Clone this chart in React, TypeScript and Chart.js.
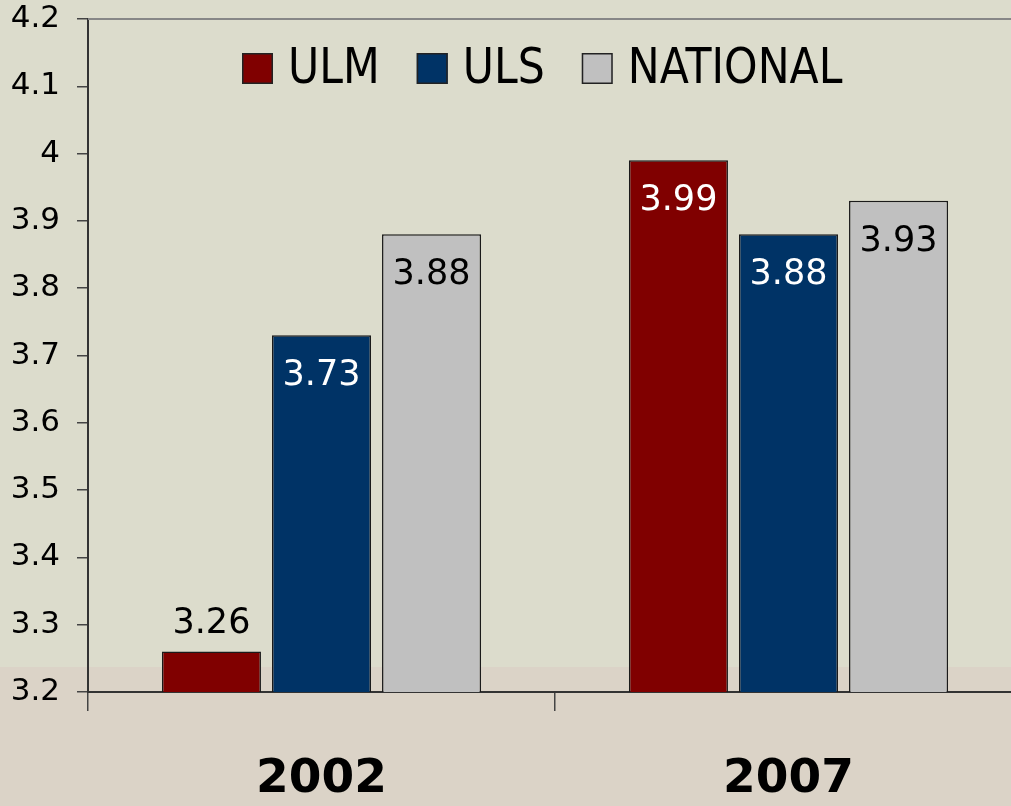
import React, { useEffect, useRef } from "react";
import { Chart, registerables } from "chart.js";

Chart.register(...registerables);

const categories = ["2002", "2007"];
const seriesNames = ["ULM", "ULS", "NATIONAL"];
const ulmValues = [3.26, 3.99];
const ulsValues = [3.73, 3.88];
const nationalValues = [3.88, 3.93];
const yMin = 3.2;
const yMax = 4.2;
const yStep = 0.1;

const CANVAS_W = 1040;
const CANVAS_H = 806;

const bgPlugin = {
  id: "bgSplit",
  beforeDraw(chart: any) {
    const { ctx, width, height } = chart;
    ctx.save();
    ctx.fillStyle = "#dcdccc";
    ctx.fillRect(0, 0, width, 667);
    ctx.fillStyle = "#dbd3c7";
    ctx.fillRect(0, 667, width, height - 667);
    ctx.restore();
  },
  beforeDatasetsDraw(chart: any) {
    const { ctx, chartArea } = chart;
    ctx.save();
    ctx.strokeStyle = "#878787";
    ctx.lineWidth = 2;
    ctx.beginPath();
    ctx.moveTo(chartArea.left, chartArea.top);
    ctx.lineTo(chartArea.right, chartArea.top);
    ctx.stroke();
    ctx.restore();
  },
};

const legendPlugin = {
  id: "customLegend",
  afterDraw(chart: any) {
    const ctx = chart.ctx;
    ctx.save();
    ctx.font = "49px 'DejaVu Sans'";
    ctx.textBaseline = "alphabetic";
    ctx.textAlign = "left";
    const sx = 0.87;
    const box = 31;
    const boxTop = 53;
    const baseline = 83;
    let x = 242;
    chart.data.datasets.forEach((ds: any) => {
      ctx.fillStyle = ds.backgroundColor;
      ctx.fillRect(x, boxTop, box, box);
      ctx.strokeStyle = "#222";
      ctx.lineWidth = 1.5;
      ctx.strokeRect(x + 0.75, boxTop + 0.75, box - 1.5, box - 1.5);
      const tx = x + box + 15;
      const w = ctx.measureText(ds.label).width * sx;
      ctx.save();
      ctx.translate(tx, baseline);
      ctx.scale(sx, 1);
      ctx.fillStyle = "#000";
      ctx.fillText(ds.label, 0, 0);
      ctx.restore();
      x = tx + w + 37;
    });
    ctx.restore();
  },
};

const valueLabelPlugin = {
  id: "valueLabels",
  afterDatasetsDraw(chart: any) {
    const ctx = chart.ctx;
    const bottom = chart.scales.y.bottom;
    ctx.save();
    ctx.font = "35px 'DejaVu Sans'";
    ctx.textAlign = "center";
    ctx.textBaseline = "middle";
    chart.data.datasets.forEach((ds: any, di: number) => {
      const meta = chart.getDatasetMeta(di);
      meta.data.forEach((bar: any, i: number) => {
        const v = ds.data[i] as number;
        const { x, y } = bar.getProps(["x", "y"], true);
        const inside = bottom - y > 70;
        ctx.fillStyle = inside ? ds.labelColor : "#000";
        ctx.fillText(v.toFixed(2), x, inside ? y + 41 : y - 28);
      });
    });
    ctx.restore();
  },
};

export default function App() {
  const canvasRef = useRef<HTMLCanvasElement | null>(null);

  useEffect(() => {
    if (!canvasRef.current) return;
    const seriesValues = [ulmValues, ulsValues, nationalValues];
    const fills = ["#800000", "#003366", "#c0c0c0"];
    const labelColors = ["#ffffff", "#ffffff", "#000000"];
    const chart = new Chart(canvasRef.current, {
      type: "bar",
      data: {
        labels: categories,
        datasets: seriesNames.map((name, i) => ({
          label: name,
          data: seriesValues[i],
          backgroundColor: fills[i],
          borderColor: "#1a1a1a",
          borderWidth: 1.5,
          barPercentage: 0.9,
          categoryPercentage: 0.707,
          labelColor: labelColors[i],
        })) as any,
      },
      options: {
        responsive: false,
        animation: false,
        devicePixelRatio: 1,
        layout: { padding: { top: 19, right: CANVAS_W - 1022, left: 0, bottom: 0 } },
        plugins: {
          legend: { display: false },
          tooltip: { enabled: false },
        },
        scales: {
          x: {
            grid: {
              display: true,
              drawOnChartArea: false,
              offset: true,
              tickLength: 19,
              color: "#444",
              lineWidth: 1.5,
            },
            border: { color: "#333", width: 2 },
            ticks: {
              font: { family: "DejaVu Sans", size: 47, weight: "bold" },
              color: "#000",
              padding: 41,
            },
            afterFit: (s: any) => {
              s.height = 114;
              s.paddingLeft = 0;
              s.paddingRight = 0;
            },
          },
          y: {
            min: yMin,
            max: yMax,
            grid: {
              drawOnChartArea: false,
              tickLength: 11,
              color: "#444",
              lineWidth: 1.5,
            },
            border: { color: "#333", width: 2 },
            ticks: {
              stepSize: yStep,
              font: { family: "DejaVu Sans", size: 31 },
              color: "#000",
              padding: 17,
              callback: (v: any) => String(Math.round(Number(v) * 10) / 10),
            },
            afterFit: (s: any) => {
              s.width = 88;
              s.paddingTop = 0;
              s.paddingBottom = 0;
            },
          },
        },
      },
      plugins: [bgPlugin, legendPlugin, valueLabelPlugin],
    });
    return () => chart.destroy();
  }, []);

  return (
    <div
      style={{
        position: "fixed",
        left: 0,
        top: 0,
        width: 1011,
        height: 806,
        overflow: "hidden",
        background: "#dcdccc",
      }}
    >
      <canvas ref={canvasRef} width={CANVAS_W} height={CANVAS_H} style={{ display: "block" }} />
    </div>
  );
}
